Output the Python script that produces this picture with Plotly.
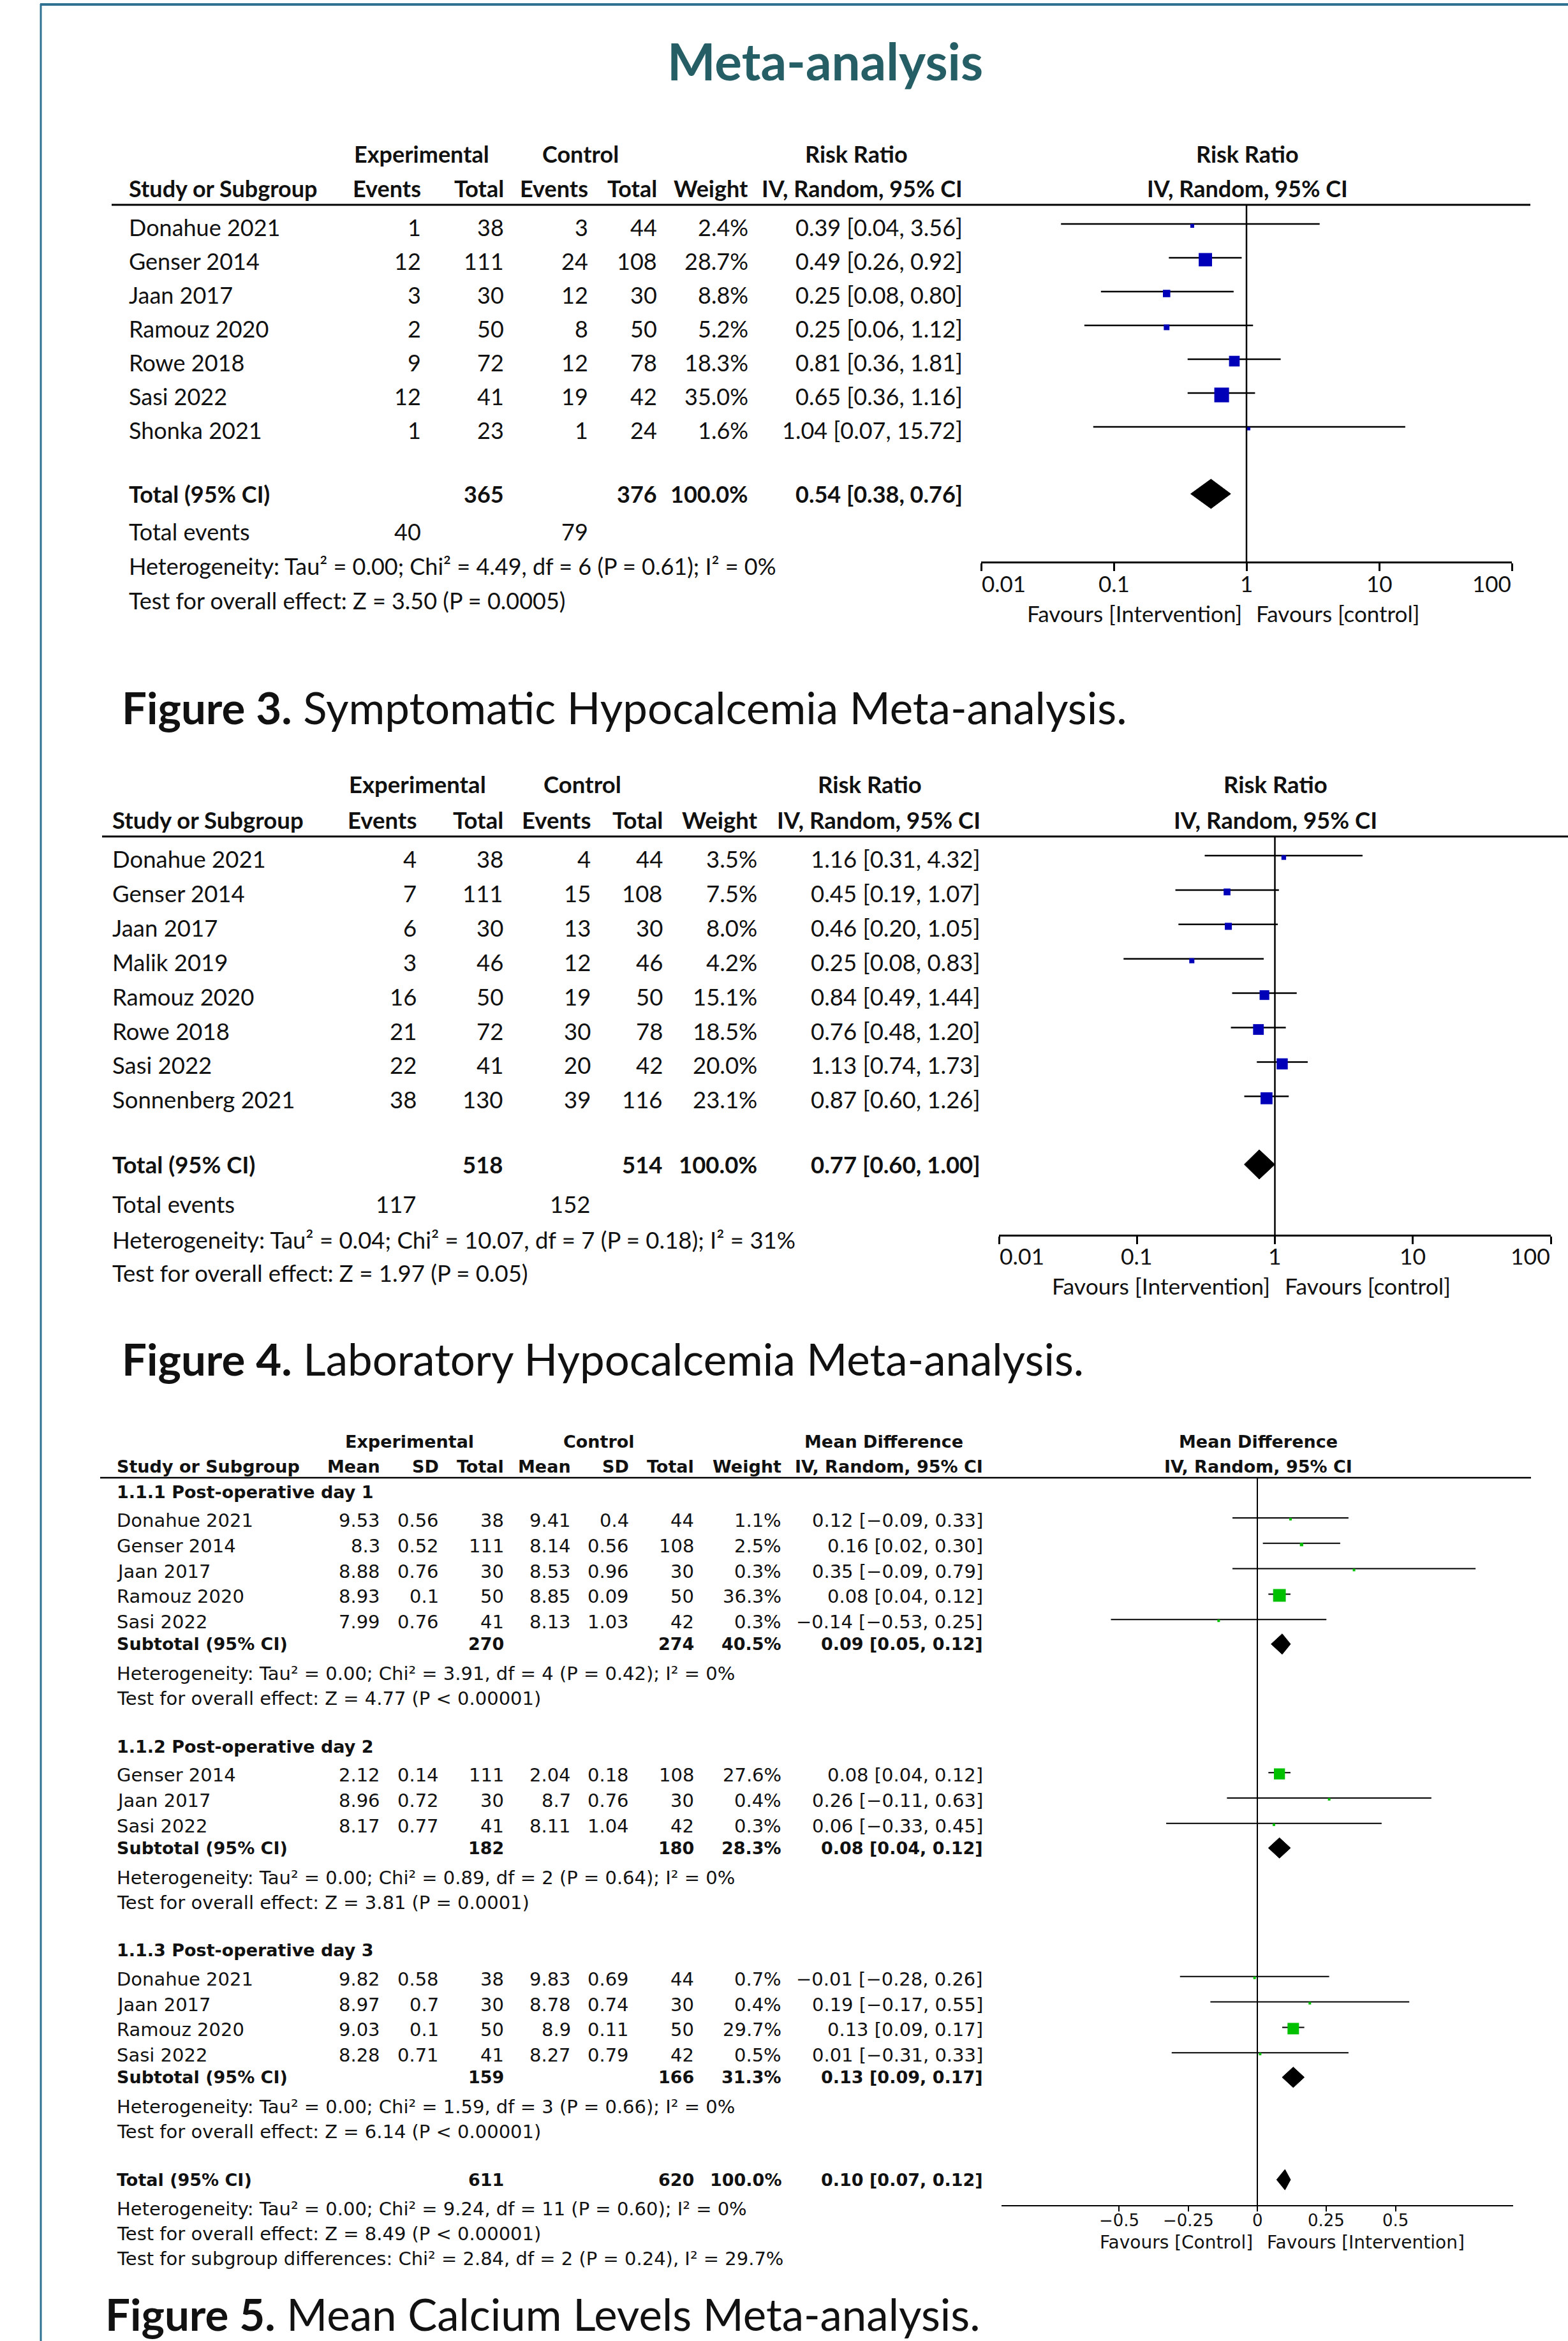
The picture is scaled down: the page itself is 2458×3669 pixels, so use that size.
import math
import plotly.graph_objects as go

W, H = 2458, 3669

# ---------------- Figure 3 data ----------------
f3_study = ["Donahue 2021", "Genser 2014", "Jaan 2017", "Ramouz 2020", "Rowe 2018", "Sasi 2022", "Shonka 2021"]
f3_exp_events = [1, 12, 3, 2, 9, 12, 1]
f3_exp_total = [38, 111, 30, 50, 72, 41, 23]
f3_ctl_events = [3, 24, 12, 8, 12, 19, 1]
f3_ctl_total = [44, 108, 30, 50, 78, 42, 24]
f3_weight = [2.4, 28.7, 8.8, 5.2, 18.3, 35.0, 1.6]
f3_rr = [0.39, 0.49, 0.25, 0.25, 0.81, 0.65, 1.04]
f3_lo = [0.04, 0.26, 0.08, 0.06, 0.36, 0.36, 0.07]
f3_hi = [3.56, 0.92, 0.80, 1.12, 1.81, 1.16, 15.72]
f3_total_n = [365, 376]
f3_total_events = [40, 79]
f3_total_est = [0.54, 0.38, 0.76]
f3_het = "Heterogeneity: Tau² = 0.00; Chi² = 4.49, df = 6 (P = 0.61); I² = 0%"
f3_test = "Test for overall effect: Z = 3.50 (P = 0.0005)"

# ---------------- Figure 4 data ----------------
f4_study = ["Donahue 2021", "Genser 2014", "Jaan 2017", "Malik 2019", "Ramouz 2020", "Rowe 2018", "Sasi 2022", "Sonnenberg 2021"]
f4_exp_events = [4, 7, 6, 3, 16, 21, 22, 38]
f4_exp_total = [38, 111, 30, 46, 50, 72, 41, 130]
f4_ctl_events = [4, 15, 13, 12, 19, 30, 20, 39]
f4_ctl_total = [44, 108, 30, 46, 50, 78, 42, 116]
f4_weight = [3.5, 7.5, 8.0, 4.2, 15.1, 18.5, 20.0, 23.1]
f4_rr = [1.16, 0.45, 0.46, 0.25, 0.84, 0.76, 1.13, 0.87]
f4_lo = [0.31, 0.19, 0.20, 0.08, 0.49, 0.48, 0.74, 0.60]
f4_hi = [4.32, 1.07, 1.05, 0.83, 1.44, 1.20, 1.73, 1.26]
f4_total_n = [518, 514]
f4_total_events = [117, 152]
f4_total_est = [0.77, 0.60, 1.00]
f4_het = "Heterogeneity: Tau² = 0.04; Chi² = 10.07, df = 7 (P = 0.18); I² = 31%"
f4_test = "Test for overall effect: Z = 1.97 (P = 0.05)"

# ---------------- Figure 5 data ----------------
f5_groups = ["1.1.1 Post-operative day 1", "1.1.2 Post-operative day 2", "1.1.3 Post-operative day 3"]
f5_study = [["Donahue 2021", "Genser 2014", "Jaan 2017", "Ramouz 2020", "Sasi 2022"],
            ["Genser 2014", "Jaan 2017", "Sasi 2022"],
            ["Donahue 2021", "Jaan 2017", "Ramouz 2020", "Sasi 2022"]]
f5_exp_mean = [[9.53, 8.3, 8.88, 8.93, 7.99], [2.12, 8.96, 8.17], [9.82, 8.97, 9.03, 8.28]]
f5_exp_sd = [[0.56, 0.52, 0.76, 0.1, 0.76], [0.14, 0.72, 0.77], [0.58, 0.7, 0.1, 0.71]]
f5_exp_n = [[38, 111, 30, 50, 41], [111, 30, 41], [38, 30, 50, 41]]
f5_ctl_mean = [[9.41, 8.14, 8.53, 8.85, 8.13], [2.04, 8.7, 8.11], [9.83, 8.78, 8.9, 8.27]]
f5_ctl_sd = [[0.4, 0.56, 0.96, 0.09, 1.03], [0.18, 0.76, 1.04], [0.69, 0.74, 0.11, 0.79]]
f5_ctl_n = [[44, 108, 30, 50, 42], [108, 30, 42], [44, 30, 50, 42]]
f5_weight = [[1.1, 2.5, 0.3, 36.3, 0.3], [27.6, 0.4, 0.3], [0.7, 0.4, 29.7, 0.5]]
f5_md = [[0.12, 0.16, 0.35, 0.08, -0.14], [0.08, 0.26, 0.06], [-0.01, 0.19, 0.13, 0.01]]
f5_lo = [[-0.09, 0.02, -0.09, 0.04, -0.53], [0.04, -0.11, -0.33], [-0.28, -0.17, 0.09, -0.31]]
f5_hi = [[0.33, 0.30, 0.79, 0.12, 0.25], [0.12, 0.63, 0.45], [0.26, 0.55, 0.17, 0.33]]
f5_sub_n = [[270, 274], [182, 180], [159, 166]]
f5_sub_weight = [40.5, 28.3, 31.3]
f5_sub_est = [[0.09, 0.05, 0.12], [0.08, 0.04, 0.12], [0.13, 0.09, 0.17]]
f5_sub_het = ["Heterogeneity: Tau² = 0.00; Chi² = 3.91, df = 4 (P = 0.42); I² = 0%",
              "Heterogeneity: Tau² = 0.00; Chi² = 0.89, df = 2 (P = 0.64); I² = 0%",
              "Heterogeneity: Tau² = 0.00; Chi² = 1.59, df = 3 (P = 0.66); I² = 0%"]
f5_sub_test = ["Test for overall effect: Z = 4.77 (P < 0.00001)",
               "Test for overall effect: Z = 3.81 (P = 0.0001)",
               "Test for overall effect: Z = 6.14 (P < 0.00001)"]
f5_total_n = [611, 620]
f5_total_est = [0.10, 0.07, 0.12]
f5_total_het = "Heterogeneity: Tau² = 0.00; Chi² = 9.24, df = 11 (P = 0.60); I² = 0%"
f5_total_test = "Test for overall effect: Z = 8.49 (P < 0.00001)"
f5_subgroup_diff = "Test for subgroup differences: Chi² = 2.84, df = 2 (P = 0.24), I² = 29.7%"

# ---------------- ticks / labels ----------------
rr_ticks = [0.01, 0.1, 1, 10, 100]
rr_ticktext = ["0.01", "0.1", "1", "10", "100"]
md_ticks = [-0.5, -0.25, 0, 0.25, 0.5]
md_ticktext = ["−0.5", "−0.25", "0", "0.25", "0.5"]

TITLE = "Meta-analysis"
CAP3 = ("Figure 3.", "Symptomatic Hypocalcemia Meta-analysis.")
CAP4 = ("Figure 4.", "Laboratory Hypocalcemia Meta-analysis.")
CAP5 = ("Figure 5.", "Mean Calcium Levels Meta-analysis.")

# ---------------- helpers ----------------
TXT = "#111111"
BLUE = "#0000b8"
GREEN = "#00c000"
TEAL = "#265e66"
FRAME = "#2f7191"
CAP_SIZE = 69


def px(x):
    return x / W


def py(y):
    return 1 - y / H


annotations = []
shapes = []


def add_text(x, y, s, anchor="left", family="Lato", size=34, bold=False, color=TXT):
    annotations.append(dict(
        x=px(x), y=py(y), xref="paper", yref="paper",
        text=f"<b>{s}</b>" if bold else s, showarrow=False,
        xanchor=anchor, yanchor="middle", borderpad=0,
        font=dict(family=family, size=size, color=color)))


def axis_label(xref, xval, y, s, anchor, family, size):
    annotations.append(dict(
        x=xval, y=py(y), xref=xref, yref="paper", text=s, showarrow=False,
        xanchor=anchor, yanchor="middle", borderpad=0,
        font=dict(family=family, size=size, color=TXT)))


def hline(y, x0, x1, width, color="black"):
    shapes.append(dict(type="line", xref="paper", yref="paper",
                       x0=px(x0), x1=px(x1), y0=py(y), y1=py(y),
                       line=dict(color=color, width=width)))


def sgn(v, d=2):
    return f"{v:.{d}f}".replace("-", "−")


def ci_text(e, lo, hi):
    return f"{sgn(e)} [{sgn(lo)}, {sgn(hi)}]"


fig = go.Figure()


def forest_traces(xa, ya, est, lo, hi, ys, weights, color, k, min_size, line_w, line_dy, sq_dy):
    xs, yy = [], []
    for l, h, y in zip(lo, hi, ys):
        xs += [l, h, None]
        yy += [y + line_dy, y + line_dy, None]
    fig.add_trace(go.Scatter(x=xs, y=yy, mode="lines", xaxis=xa, yaxis=ya,
                             line=dict(color="black", width=line_w), hoverinfo="skip", showlegend=False))
    sizes = [max(min_size, k * w ** 0.5) for w in weights]
    fig.add_trace(go.Scatter(x=est, y=[y + sq_dy for y in ys], mode="markers", xaxis=xa, yaxis=ya,
                             marker=dict(symbol="square", size=sizes, color=color, opacity=1,
                                         line=dict(width=0)),
                             hoverinfo="skip", showlegend=False))


def diamond(xa, ya, est, lo, hi, yc, half_h):
    fig.add_trace(go.Scatter(x=[lo, est, hi, est, lo], y=[yc, yc - half_h, yc, yc + half_h, yc],
                             mode="lines", fill="toself", fillcolor="black",
                             line=dict(color="black", width=1), xaxis=xa, yaxis=ya,
                             hoverinfo="skip", showlegend=False))


def null_line(xa, ya, xv, y0, y1, width):
    fig.add_trace(go.Scatter(x=[xv, xv], y=[y0, y1], mode="lines", xaxis=xa, yaxis=ya,
                             line=dict(color="black", width=width), hoverinfo="skip", showlegend=False))


layout_axes = {}


def make_axes(xn, yn, ovn, x0, x1, ytop, ybot, xtype, xrange, tickvals, lw, tlen):
    yref = "y" if yn == "yaxis" else "y" + yn[5:]
    xref = "x" if xn == "xaxis" else "x" + xn[5:]
    common = dict(domain=[px(x0), px(x1)], type=xtype, range=xrange, anchor=yref, automargin=False,
                  tickmode="array", tickvals=tickvals, showgrid=False, zeroline=False, fixedrange=True)
    layout_axes[xn] = dict(common, showline=True, linecolor="black", linewidth=lw,
                           ticks="outside", ticklen=tlen, tickwidth=lw, tickcolor="black",
                           showticklabels=False)
    layout_axes[ovn] = dict(common, overlaying=xref, showline=False, ticks="inside", ticklen=tlen,
                            tickwidth=lw, tickcolor="black", showticklabels=False)
    layout_axes[yn] = dict(domain=[py(ybot), py(ytop)], range=[ybot, ytop], visible=False, automargin=False,
                           showgrid=False, zeroline=False, fixedrange=True)


# ================= Title & frame =================
add_text(1293, 95, TITLE, anchor="center", size=80, bold=True, color=TEAL)
hline(7, 63, W, 4, FRAME)
shapes.append(dict(type="line", xref="paper", yref="paper", x0=px(64), x1=px(64), y0=py(6), y1=0,
                   line=dict(color=FRAME, width=3)))


# ================= Risk-ratio figure builder =================
def rr_figure(xa, ya, ovn, study, ee, et, ce, ct, wt, rr, lo, hi, tot_n, tot_ev, tot_est, het, test,
              g, cap):
    fs = g["fs"]
    cols = g["cols"]
    add_text(g["exp_c"], g["h1"], "Experimental", "center", size=fs, bold=True)
    add_text(g["ctl_c"], g["h1"], "Control", "center", size=fs, bold=True)
    add_text(g["rr_c"], g["h1"], "Risk Ratio", "center", size=fs, bold=True)
    add_text(g["forest_c"], g["h1"], "Risk Ratio", "center", size=fs, bold=True)
    add_text(g["left"], g["h2"], "Study or Subgroup", "left", size=fs, bold=True)
    for xr, lab in zip(cols, ["Events", "Total", "Events", "Total", "Weight", "IV, Random, 95% CI"]):
        add_text(xr, g["h2"], lab, "right", size=fs, bold=True)
    add_text(g["forest_c"], g["h2"], "IV, Random, 95% CI", "center", size=fs, bold=True)
    hline(g["hl"], g["hl_x0"], g["hl_x1"], 3)
    ys = [g["r0"] + g["pitch"] * i for i in range(len(study))]
    for i, y in enumerate(ys):
        add_text(g["left"], y, study[i], "left", size=fs)
        vals = [str(ee[i]), str(et[i]), str(ce[i]), str(ct[i]), f"{wt[i]:.1f}%", ci_text(rr[i], lo[i], hi[i])]
        for xr, v in zip(cols, vals):
            add_text(xr, y, v, "right", size=fs)
    yt = g["tot"]
    add_text(g["left"], yt, "Total (95% CI)", "left", size=fs, bold=True)
    add_text(cols[1], yt, str(tot_n[0]), "right", size=fs, bold=True)
    add_text(cols[3], yt, str(tot_n[1]), "right", size=fs, bold=True)
    add_text(cols[4], yt, "100.0%", "right", size=fs, bold=True)
    add_text(cols[5], yt, ci_text(*tot_est), "right", size=fs, bold=True)
    add_text(g["left"], g["tev"], "Total events", "left", size=fs)
    add_text(cols[0], g["tev"], str(tot_ev[0]), "right", size=fs)
    add_text(cols[2], g["tev"], str(tot_ev[1]), "right", size=fs)
    add_text(g["left"], g["het"], het, "left", size=fs)
    add_text(g["left"], g["test"], test, "left", size=fs)
    make_axes(xa.replace("x", "xaxis"), ya.replace("y", "yaxis"), ovn, g["ax_x0"], g["ax_x1"], g["hl"],
              g["axis_y"], "log", [-2, 2], rr_ticks, 3, 12)
    for j, (tv, tt) in enumerate(zip(rr_ticks, rr_ticktext)):
        anc = "left" if j == 0 else ("right" if j == len(rr_ticks) - 1 else "center")
        axis_label(xa, math.log10(tv), g["tick_y"], tt, anc, "Lato", fs - 1)
    null_line(xa, ya, 1, g["hl"], g["axis_y"], 2.5)
    forest_traces(xa, ya, rr, lo, hi, ys, wt, BLUE, 3.9, 5, 2.5, -5, -2)
    diamond(xa, ya, tot_est[0], tot_est[1], tot_est[2], yt, 23)
    add_text(g["fav_l"], g["fav"], "Favours [Intervention]", "right", size=fs - 1)
    add_text(g["fav_r"], g["fav"], "Favours [control]", "left", size=fs - 1)
    add_text(g["cap_x"], g["cap_y"], f"<b>{cap[0]}</b> {cap[1]}", "left", size=CAP_SIZE)


g3 = dict(fs=36, cols=[661, 791, 923, 1031, 1174, 1510], exp_c=661, ctl_c=910, rr_c=1342, forest_c=1955,
          left=201, h1=241, h2=295, hl=321, hl_x0=175, hl_x1=2399, r0=356, pitch=53.0, tot=774, tev=833,
          het=887, test=941, ax_x0=1538, ax_x1=2370, axis_y=880, tick_y=914, fav=961, fav_l=1948,
          fav_r=1968, cap_x=190, cap_y=1108)
rr_figure("x", "y", "xaxis4", f3_study, f3_exp_events, f3_exp_total, f3_ctl_events, f3_ctl_total, f3_weight,
          f3_rr, f3_lo, f3_hi, f3_total_n, f3_total_events, f3_total_est, f3_het, f3_test, g3, CAP3)

g4 = dict(fs=36.5, cols=[654, 790, 927, 1040, 1188, 1538], exp_c=654, ctl_c=913, rr_c=1363, forest_c=1999,
          left=175, h1=1229, h2=1285, hl=1311, hl_x0=160, hl_x1=W, r0=1346, pitch=53.9, tot=1825, tev=1887,
          het=1943, test=1995, ax_x0=1566, ax_x1=2431, axis_y=1935, tick_y=1968, fav=2016, fav_l=1992,
          fav_r=2013, cap_x=190, cap_y=2129)
rr_figure("x2", "y2", "xaxis5", f4_study, f4_exp_events, f4_exp_total, f4_ctl_events, f4_ctl_total, f4_weight,
          f4_rr, f4_lo, f4_hi, f4_total_n, f4_total_events, f4_total_est, f4_het, f4_test, g4, CAP4)

# ================= Figure 5 (mean difference) =================
F5 = "DejaVu Sans"
fs5 = 29
fh5 = 27
c5 = [597, 689, 791, 896, 987, 1089, 1226, 1542]
left5 = 182
add_text(642, 2259, "Experimental", "center", F5, fh5, True)
add_text(939, 2259, "Control", "center", F5, fh5, True)
add_text(1385, 2259, "Mean Difference", "center", F5, fh5, True)
add_text(1972, 2259, "Mean Difference", "center", F5, fh5, True)
add_text(left5, 2298, "Study or Subgroup", "left", F5, fh5, True)
for xr, lab in zip(c5, ["Mean", "SD", "Total", "Mean", "SD", "Total", "Weight", "IV, Random, 95% CI"]):
    add_text(xr, 2298, lab, "right", F5, fh5, True)
add_text(1972, 2298, "IV, Random, 95% CI", "center", F5, fh5, True)
hline(2316, 157, 2400, 2.5)

pitch5 = 39.8
y = 2338
all_ys, all_est, all_lo, all_hi, all_w = [], [], [], [], []
sub_rows = []
for gi, gname in enumerate(f5_groups):
    add_text(left5, y, gname, "left", F5, fh5, True)
    y += 45
    for i, name in enumerate(f5_study[gi]):
        if i > 0:
            y += pitch5
        vals = [f"{f5_exp_mean[gi][i]:g}", f"{f5_exp_sd[gi][i]:g}", str(f5_exp_n[gi][i]),
                f"{f5_ctl_mean[gi][i]:g}", f"{f5_ctl_sd[gi][i]:g}", str(f5_ctl_n[gi][i]),
                f"{f5_weight[gi][i]:.1f}%", ci_text(f5_md[gi][i], f5_lo[gi][i], f5_hi[gi][i])]
        add_text(left5, y, name, "left", F5, fs5)
        for xr, v in zip(c5, vals):
            add_text(xr, y, v, "right", F5, fs5)
        all_ys.append(y)
        all_est.append(f5_md[gi][i])
        all_lo.append(f5_lo[gi][i])
        all_hi.append(f5_hi[gi][i])
        all_w.append(f5_weight[gi][i])
    y += 34.5
    add_text(left5, y, "Subtotal (95% CI)", "left", F5, fh5, True)
    add_text(c5[2], y, str(f5_sub_n[gi][0]), "right", F5, fh5, True)
    add_text(c5[5], y, str(f5_sub_n[gi][1]), "right", F5, fh5, True)
    add_text(c5[6], y, f"{f5_sub_weight[gi]:.1f}%", "right", F5, fh5, True)
    add_text(c5[7], y, ci_text(*f5_sub_est[gi]), "right", F5, fh5, True)
    sub_rows.append(y)
    y += 46.5
    add_text(left5, y, f5_sub_het[gi], "left", F5, fs5)
    y += 39
    add_text(left5, y, f5_sub_test[gi], "left", F5, fs5)
    y += 75

y_total5 = y
add_text(left5, y, "Total (95% CI)", "left", F5, fh5, True)
add_text(c5[2], y, str(f5_total_n[0]), "right", F5, fh5, True)
add_text(c5[5], y, str(f5_total_n[1]), "right", F5, fh5, True)
add_text(c5[6], y, "100.0%", "right", F5, fh5, True)
add_text(c5[7], y, ci_text(*f5_total_est), "right", F5, fh5, True)
y += 46
add_text(left5, y, f5_total_het, "left", F5, fs5)
y += 39
add_text(left5, y, f5_total_test, "left", F5, fs5)
y += 39
add_text(left5, y, f5_subgroup_diff, "left", F5, fs5)

axis5_y = 3456
make_axes("xaxis3", "yaxis3", "xaxis6", 1570, 2372, 2316, axis5_y, "linear", [-0.926, 0.926],
          md_ticks, 2, 8)
for tv, tt in zip(md_ticks, md_ticktext):
    axis_label("x3", tv, 3480, tt, "center", F5, 26)
null_line("x3", "y3", 0, 2316, axis5_y, 2)
forest_traces("x3", "y3", all_est, all_lo, all_hi, all_ys, all_w, GREEN, 3.3, 4, 2, -4, -2)
for gi, ys_ in enumerate(sub_rows):
    diamond("x3", "y3", f5_sub_est[gi][0], f5_sub_est[gi][1], f5_sub_est[gi][2], ys_, 16)
diamond("x3", "y3", f5_total_est[0], f5_total_est[1], f5_total_est[2], y_total5, 16)
add_text(1965, 3514, "Favours [Control]", "right", F5, 28)
add_text(1985, 3514, "Favours [Intervention]", "left", F5, 28)
add_text(164, 3626, f"<b>{CAP5[0]}</b> {CAP5[1]}", "left", "Lato", CAP_SIZE)

fig.update_layout(
    width=W, height=H, autosize=False,
    margin=dict(l=0, r=0, t=0, b=0, pad=0, autoexpand=False),
    paper_bgcolor="white", plot_bgcolor="rgba(0,0,0,0)",
    showlegend=False,
    annotations=annotations, shapes=shapes,
    **layout_axes,
)

fig.write_html("out.html", config={"responsive": False, "displayModeBar": False},
               post_script="document.body.style.margin='0px'; document.body.style.overflow='hidden';")
